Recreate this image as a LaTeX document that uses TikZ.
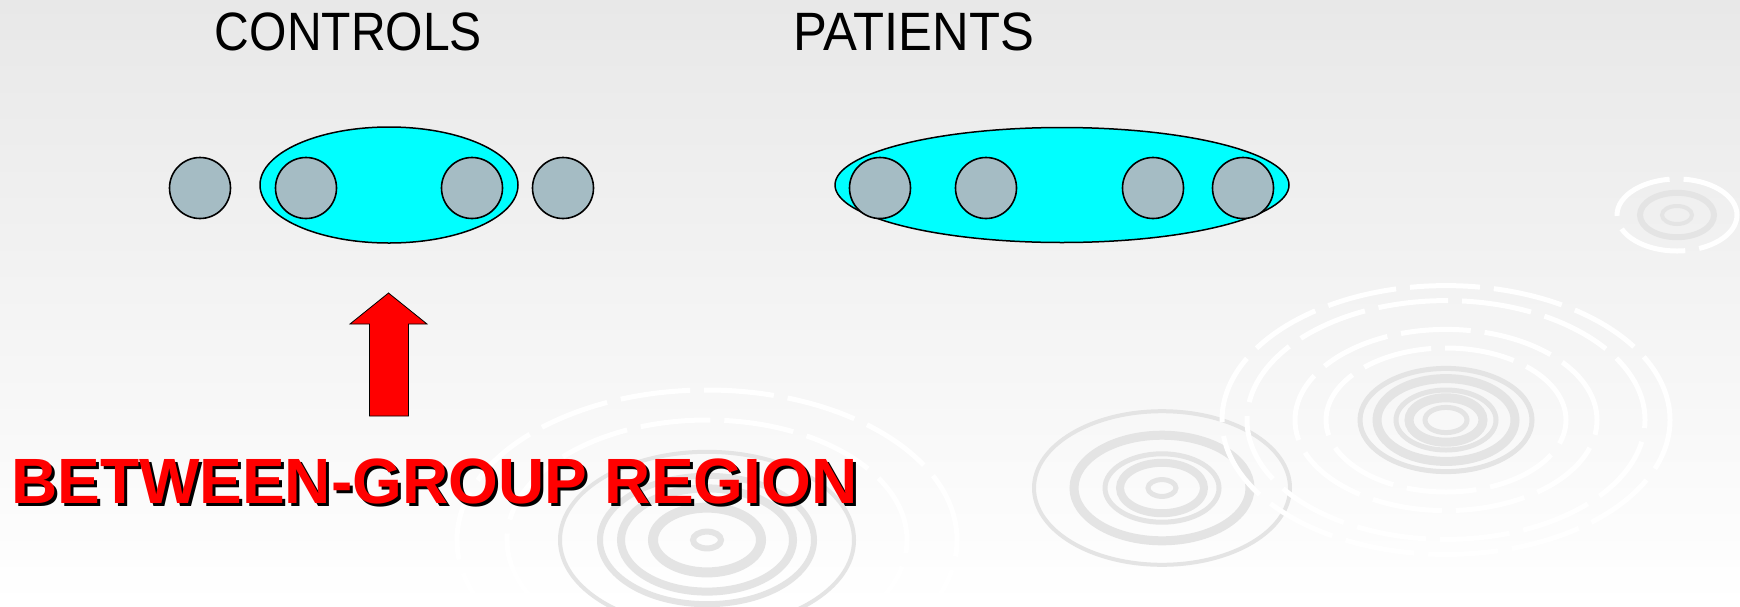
\documentclass[tikz,border=0pt]{standalone}
\usepackage{fontspec}
\setmainfont{Liberation Sans}
\usepackage{xcolor}
\definecolor{groupcyan}{RGB}{0, 255, 255}
\definecolor{subjgray}{RGB}{165, 188, 196}
\definecolor{regionred}{RGB}{255, 0, 0}
\definecolor{bgtop}{RGB}{232, 232, 232}
\definecolor{ringgray}{RGB}{228, 228, 228}
\usepackage{tikz}
\usetikzlibrary{shapes.geometric, positioning}

\begin{document}
\begin{tikzpicture}[x=1pt, y=-1pt,
    subj/.style={circle, draw=black, line width=1.6pt, fill=subjgray, minimum size=61pt, inner sep=0pt},
    grp/.style={ellipse, draw=black, line width=1.5pt, fill=groupcyan, inner sep=0pt},
    title/.style={font=\fontsize{54}{60}\selectfont, anchor=base, inner sep=0pt},
    region/.style={font=\bfseries\fontsize{64}{70}\selectfont, anchor=base west, inner sep=0pt},
    ring/.style={ringgray, line width=#1},
    glint/.style={white, line width=5pt, dash pattern=on 70pt off 14pt}]
    \useasboundingbox (0,0) rectangle (1740,606);
    \shade[top color=bgtop, bottom color=white] (0,0) rectangle (1740,606);

    % faint ripples in the background
    \foreach \cx/\cy/\rx/\w in {707/540/14/6, 707/540/54/10, 707/540/86/8, 707/540/107/6, 707/540/147/4,
                                1162/488/14/5, 1162/488/42/8, 1162/488/57/5, 1162/488/88/9, 1162/488/128/4,
                                1446/420/21/5, 1446/420/37/9, 1446/420/50/5, 1446/420/69/9, 1446/420/86/5,
                                1677/215/15/4, 1677/215/37/6}
        \draw[ring=\w pt] (\cx,\cy) ellipse [x radius=\rx pt, y radius={0.6*\rx pt}];
    \foreach \cx/\cy/\rx in {707/540/250, 707/540/200, 1446/420/120, 1446/420/151, 1446/420/199, 1446/420/224, 1677/215/60}
        \draw[glint] (\cx,\cy) ellipse [x radius=\rx pt, y radius={0.6*\rx pt}];

    % groups
    \node[grp, minimum width=258pt, minimum height=116pt] (ctlgrp) at (389,185) {};
    \node[grp, minimum width=454pt, minimum height=115pt] (patgrp) at (1062,185) {};

    \foreach \i/\x in {1/200, 2/306, 3/472, 4/563}
        \node[subj] (ctl\i) at (\x,188) {};
    \foreach \i/\x in {1/880, 2/986, 3/1153, 4/1243}
        \node[subj] (pat\i) at (\x,188) {};

    \node[title] (ctltitle) at (348.5,50) {\scalebox{0.89}[1]{CONTROLS}};
    \node[title] (pattitle) at (913.5,50) {\scalebox{0.94}[1]{PATIENTS}};

    % arrow
    \coordinate (arrtip) at (388.5,293);
    \draw[fill=regionred, line width=0.8pt] (arrtip) -- (427,324) -- (408.5,324) -- (408.5,416)
        -- (369.5,416) -- (369.5,324) -- (350,324) -- cycle;

    \node[region, text=black] (regionshadow) at (14,506) {BETWEEN-GROUP REGION};
    \node[region, text=regionred] (regionlbl) at (11,503) {BETWEEN-GROUP REGION};
\end{tikzpicture}
\end{document}
